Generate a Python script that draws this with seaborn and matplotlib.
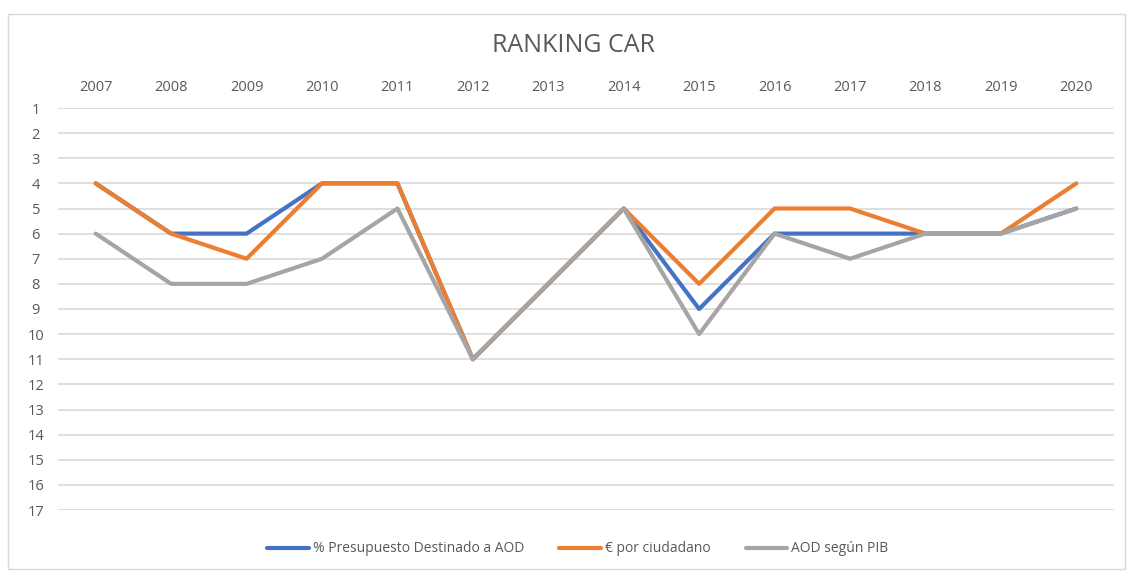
import matplotlib
matplotlib.use("Agg")
import matplotlib.pyplot as plt
import matplotlib.patches as mpatches
import seaborn as sns
import pandas as pd

years = ["2007", "2008", "2009", "2010", "2011", "2012", "2013", "2014",
         "2015", "2016", "2017", "2018", "2019", "2020"]
presupuesto = [4, 6, 6, 4, 4, 11, 8, 5, 9, 6, 6, 6, 6, 5]
por_ciudadano = [4, 6, 7, 4, 4, 11, 8, 5, 8, 5, 5, 6, 6, 4]
segun_pib = [6, 8, 8, 7, 5, 11, 8, 5, 10, 6, 7, 6, 6, 5]
series_names = ["% Presupuesto Destinado a AOD", "€ por ciudadano", "AOD según PIB"]
colors = ["#4472C4", "#ED7D31", "#A5A5A5"]
y_ticks = list(range(1, 18))

sns.set_theme(style="white")
plt.rcParams["font.family"] = ["Open Sans", "DejaVu Sans"]

df = pd.DataFrame({
    "year": years * 3,
    "rank": presupuesto + por_ciudadano + segun_pib,
    "serie": [series_names[0]] * len(years) + [series_names[1]] * len(years) + [series_names[2]] * len(years),
})
df["x"] = df["year"].map({y: i for i, y in enumerate(years)})

fig = plt.figure(figsize=(11.29, 5.72), dpi=100)
ax = fig.add_axes([58 / 1129, 1 - 510 / 572, (1114 - 58) / 1129, (510 - 108) / 572])

# chart border
fig.patches.append(mpatches.Rectangle((8 / 1129, 0.005), 1 - 12 / 1129, 1 - 14 / 572 - 0.005,
                                      transform=fig.transFigure, fill=False,
                                      edgecolor="#D9D9D9", linewidth=1.0))

sns.lineplot(data=df, x="x", y="rank", hue="serie", palette=colors,
             hue_order=series_names, linewidth=3.0, ax=ax, legend=False, sort=False)

ax.set_xlim(-0.5, len(years) - 0.5)
ax.set_ylim(17, 1)
ax.set_yticks(y_ticks)
ax.set_yticklabels([str(v) for v in y_ticks])
ax.set_xticks(range(len(years)))
ax.set_xticklabels(years)
ax.xaxis.tick_top()
ax.tick_params(axis="x", length=0, pad=9.5, labelsize=10.5, labelcolor="#595959")
ax.tick_params(axis="y", length=0, labelsize=10.5, labelcolor="#595959")
for lbl in ax.get_yticklabels():
    lbl.set_horizontalalignment("center")
ax.yaxis.set_tick_params(pad=16)
ax.grid(axis="y", color="#D9D9D9", linewidth=1.2)
ax.grid(axis="x", visible=False)
ax.set_axisbelow(True)
for s in ax.spines.values():
    s.set_visible(False)
ax.set_xlabel("")
ax.set_ylabel("")

fig.text(573 / 1129, 1 - 45 / 572, "RANKING CAR", ha="center", va="center",
         fontsize=18, color="#595959")

handles = [plt.Line2D([0], [0], color=c, linewidth=3.0, solid_capstyle="round") for c in colors]
fig.legend(handles, series_names, loc="center", bbox_to_anchor=(578 / 1129, 1 - 549 / 572),
           ncol=3, frameon=False, fontsize=10, labelcolor="#595959",
           handlelength=3.0, handletextpad=0.3, columnspacing=2.5)

fig.savefig("out.png", dpi=100)
